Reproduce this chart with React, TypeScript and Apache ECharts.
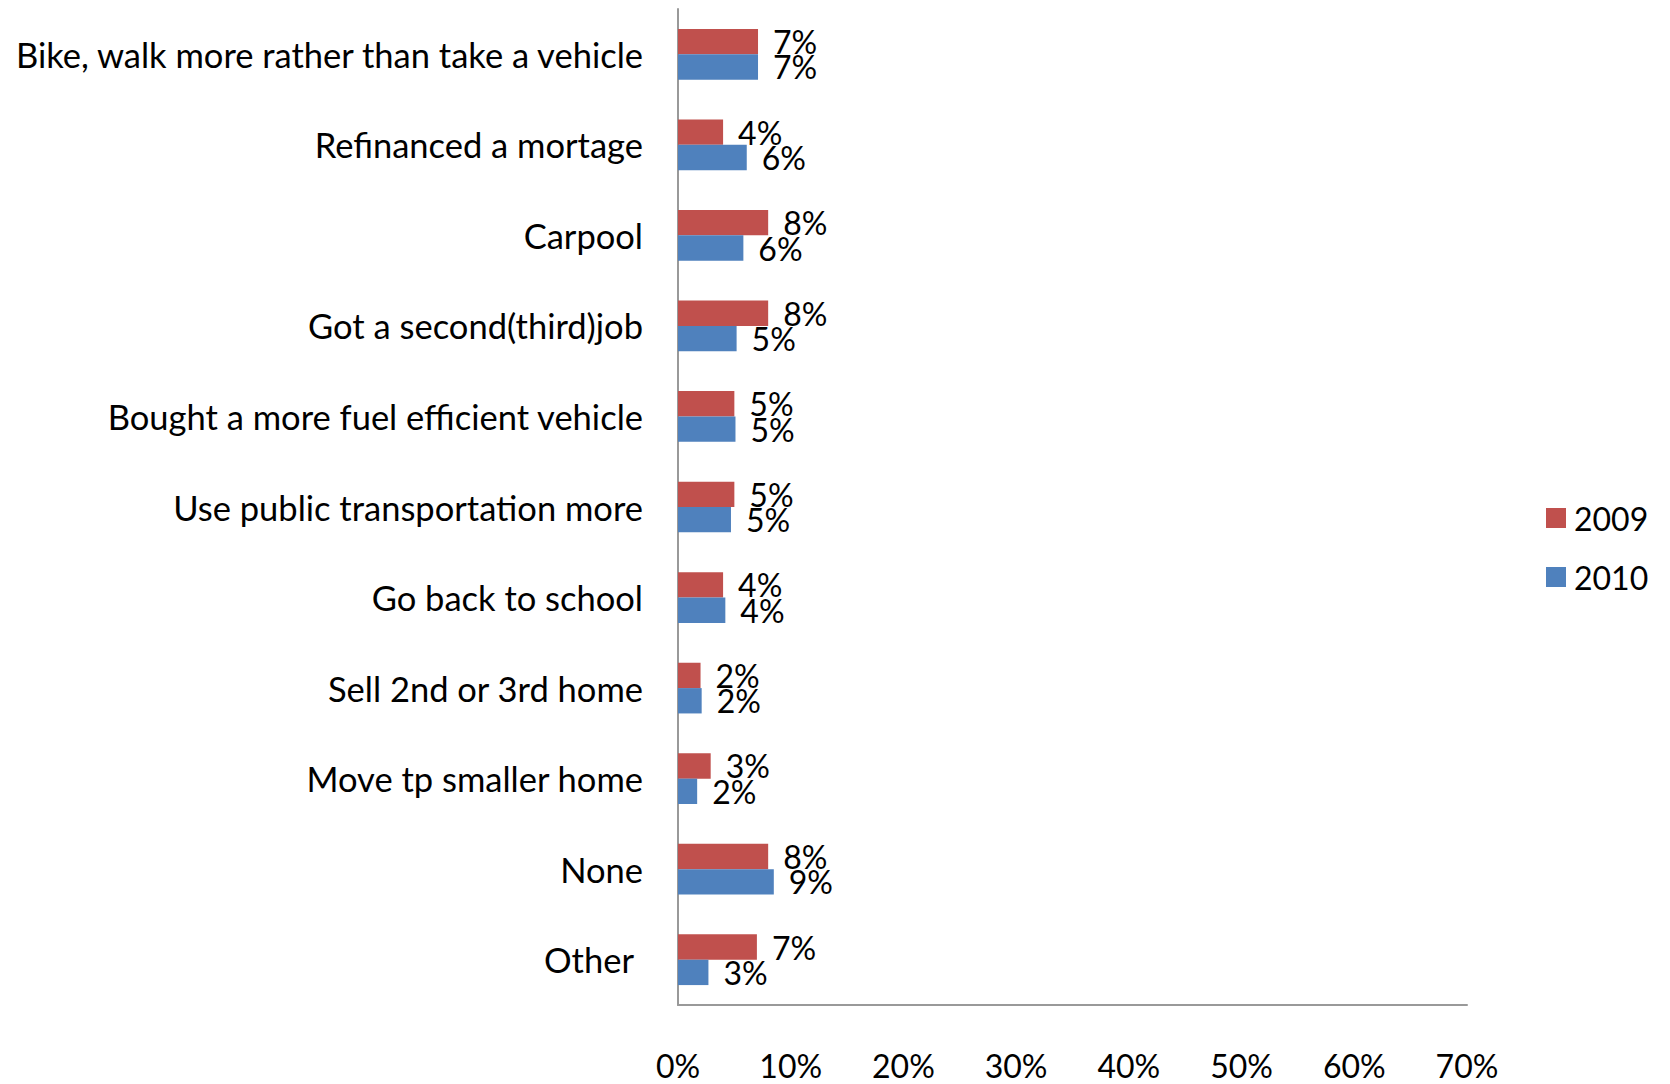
import React, { useEffect, useRef } from "react";
import * as echarts from "echarts";

const categories = [
  "Bike, walk more rather than take a vehicle",
  "Refinanced a mortage",
  "Carpool",
  "Got a second(third)job",
  "Bought a more fuel efficient vehicle",
  "Use public transportation more",
  "Go back to school",
  "Sell 2nd or 3rd home",
  "Move tp smaller home",
  "None",
  "Other",
];
const values2009 = [7.1, 4.0, 8.0, 8.0, 5.0, 5.0, 4.0, 2.0, 2.9, 8.0, 7.0];
const values2010 = [7.1, 6.1, 5.8, 5.2, 5.1, 4.7, 4.2, 2.1, 1.7, 8.5, 2.7];
const seriesNames = ["2009", "2010"];
const xTicks = { min: 0, max: 70, interval: 10 };

const FONT = "Lato";
const FS = 32;
const CAT_FS = 34.5;

export default function App() {
  const ref = useRef<HTMLDivElement>(null);
  useEffect(() => {
    const chart = echarts.init(ref.current!, null, { renderer: "svg" });
    const labelOpt = {
      show: true,
      position: "right",
      distance: 15,
      color: "#000",
      fontFamily: FONT,
      fontSize: FS,
      formatter: (p: any) => `${Math.round(p.value)}%`,
    };
    chart.setOption({
      animation: false,
      backgroundColor: "#fff",
      textStyle: { fontFamily: FONT },
      legend: {
        orient: "vertical",
        left: 1541,
        top: 497,
        itemWidth: 20,
        itemHeight: 20,
        itemGap: 27,
        icon: "rect",
        textStyle: { fontFamily: FONT, fontSize: FS, color: "#000", padding: [0, 0, 0, 3] },
        data: seriesNames,
      },
      grid: { left: 678, right: 203, top: 9, bottom: 79, containLabel: false },
      xAxis: {
        type: "value",
        min: xTicks.min,
        max: xTicks.max,
        interval: xTicks.interval,
        axisLine: { show: true, lineStyle: { color: "#999", width: 2 } },
        axisTick: { show: false },
        splitLine: { show: false },
        axisLabel: {
          margin: 44,
          color: "#000",
          fontFamily: FONT,
          fontSize: FS,
          formatter: (v: number) => `${v}%`,
        },
      },
      yAxis: {
        type: "category",
        inverse: true,
        data: categories,
        axisLine: { show: true, lineStyle: { color: "#999", width: 2 } },
        axisTick: { show: false },
        axisLabel: {
          margin: 35,
          color: "#000",
          fontFamily: FONT,
          fontSize: CAT_FS,
          formatter: (v: string) => (v === "Other" ? `{o|${v}}` : v),
          rich: {
            o: {
              fontFamily: FONT,
              fontSize: CAT_FS,
              color: "#000",
              padding: [0, 9, 0, 0],
            },
          },
        },
      },
      series: [
        {
          name: seriesNames[0],
          type: "bar",
          data: values2009,
          itemStyle: { color: "#C0504D" },
          barGap: "0%",
          barCategoryGap: "44%",
          label: labelOpt,
        },
        {
          name: seriesNames[1],
          type: "bar",
          data: values2010,
          itemStyle: { color: "#4F81BD" },
          barGap: "0%",
          barCategoryGap: "44%",
          label: labelOpt,
        },
      ],
    });
    return () => chart.dispose();
  }, []);
  return (
    <div
      ref={ref}
      style={{ position: "absolute", left: 0, top: 0, width: 1670, height: 1084 }}
    />
  );
}
